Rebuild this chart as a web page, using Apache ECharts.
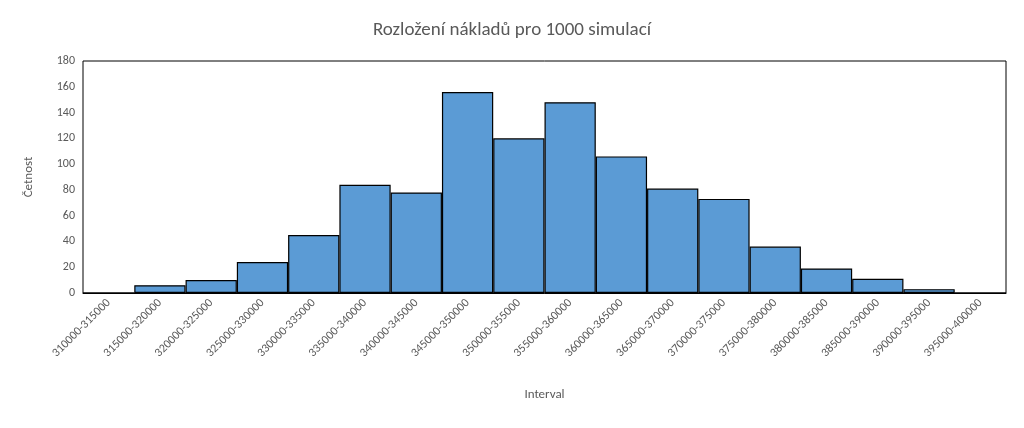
<!DOCTYPE html>
<html><head><meta charset="utf-8">
<script src="https://cdn.jsdelivr.net/npm/echarts@6/dist/echarts.min.js"></script>
<style>html,body{margin:0;padding:0;background:#fff}#c{width:1024px;height:428px}</style>
</head><body><div id="c"></div>
<script>
const categories = ["310000-315000","315000-320000","320000-325000","325000-330000","330000-335000","335000-340000","340000-345000","345000-350000","350000-355000","355000-360000","360000-365000","365000-370000","370000-375000","375000-380000","380000-385000","385000-390000","390000-395000","395000-400000"];
const counts = [0,6,10,24,45,84,78,156,120,148,106,81,73,36,19,11,3,0];
const yTicks = {min:0,max:180,interval:20};
const chart = echarts.init(document.getElementById('c'));
const font = 'Calibri, "Liberation Sans", "Noto Sans", sans-serif';
chart.setOption({
  animation:false,
  title:{text:'Rozložení nákladů pro 1000 simulací',left:'center',top:16,textStyle:{fontFamily:font,fontSize:19,fontWeight:'normal',color:'#595959'}},
  grid:{left:83,right:18,top:61,bottom:135,show:true,borderColor:'#000',borderWidth:1},
  xAxis:{type:'category',data:categories,boundaryGap:true,name:'Interval',nameLocation:'middle',nameGap:95,
    nameTextStyle:{fontFamily:font,fontSize:13,color:'#595959'},
    axisLine:{lineStyle:{color:'#000'}},axisTick:{show:false},
    axisLabel:{rotate:45,interval:0,fontFamily:font,fontSize:12,color:'#595959',margin:8}},
  yAxis:{type:'value',min:yTicks.min,max:yTicks.max,interval:yTicks.interval,name:'Četnost',nameLocation:'middle',nameGap:48,
    nameTextStyle:{fontFamily:font,fontSize:13,color:'#595959'},
    splitLine:{show:false},axisLine:{show:false},axisTick:{show:false},
    axisLabel:{fontFamily:font,fontSize:12,color:'#595959'}},
  series:[{type:'bar',data:counts,barWidth:'100%',barCategoryGap:'0%',
    itemStyle:{color:'#5B9BD5',borderColor:'#000',borderWidth:1.2}}]
});
</script></body></html>
